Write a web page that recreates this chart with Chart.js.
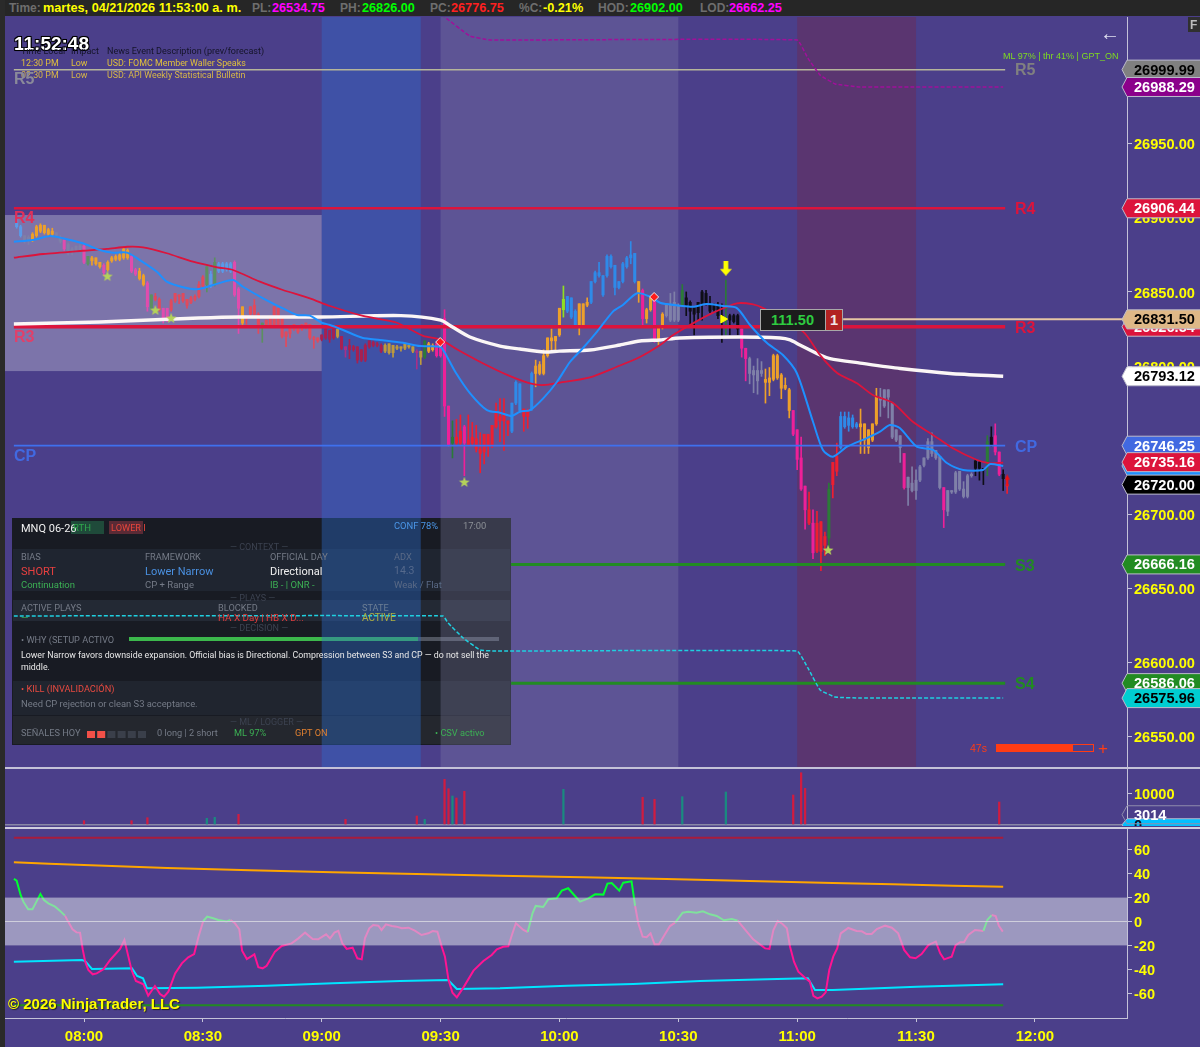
<!DOCTYPE html>
<html>
<head>
<meta charset="utf-8">
<title>MNQ 06-26</title>
<script src="https://cdn.jsdelivr.net/npm/chart.js@4"></script>
<style>
  html, body { margin: 0; padding: 0; background: #4b3f8a; overflow: hidden; }
  #page { position: relative; width: 1200px; height: 1047px; overflow: hidden; background: #4b3f8a; font-family: "Liberation Sans", Arial, sans-serif; }
  canvas { position: absolute; left: 0; display: block; }
  #priceChart { top: 17px; }
  #volumeChart { top: 769px; }
  #oscChart { top: 829px; }
  #topbar { position: absolute; left: 0; top: 0; width: 1200px; height: 16px; background: #262626; }
  #gutter { position: absolute; left: 0; top: 0; width: 5px; height: 1047px; background: #2a2a2a; }
  .rule { position: absolute; left: 5px; width: 1195px; }
  .t { position: absolute; white-space: nowrap; transform: translateY(-50%); line-height: 1; }
  .n { font-family: Roboto, sans-serif; }
  .box { position: absolute; box-sizing: border-box; }
</style>
</head>
<body>
<div id="page">
  <canvas id="priceChart" width="1200" height="751"></canvas>
  <canvas id="volumeChart" width="1200" height="57"></canvas>
  <canvas id="oscChart" width="1200" height="218"></canvas>
  <div class="rule" style="top:767px;height:2px;background:#c4c2d8"></div>
  <div class="rule" style="top:827px;height:2px;background:#d0cee0"></div>
  <div id="topbar"></div>
  <div id="gutter"></div>
  <div id="texts"></div>
</div>
<script>
// minutes since midnight for the first bar is 07:43, one bar per minute
const firstBarMinute = 463;
const barHighs = [
  26901,26895,26888,26888,26890,26895,26896,26895,26893,26893,
  26890,26888,26885,26883,26880,26881,26882,26882,26874,26874,
  26873,26870,26869,26871,26874,26875,26876,26880,26879,26875,
  26866,26866,26862,26857,26848,26849,26846,26839,26839,26845,
  26849,26848,26849,26845,26847,26848,26857,26861,26867,26864,
  26873,26870,26870,26870,26870,26871,26853,26840,26834,26840,
  26845,26836,26829,26831,26833,26840,26839,26833,26823,26827,
  26828,26827,26828,26829,26828,26820,26819,26821,26825,26824,
  26826,26825,26820,26813,26818,26814,26813,26811,26815,26817,
  26817,26816,26815,26815,26815,26814,26814,26813,26815,26815,
  26813,26811,26810,26817,26816,26815,26816,26815,26838,26773,
  26763,26764,26767,26760,26767,26762,26760,26755,26754,26754,
  26760,26775,26778,26778,26763,26775,26790,26788,26771,26771,
  26796,26804,26803,26811,26819,26825,26820,26839,26854,26847,
  26846,26838,26842,26842,26846,26857,26864,26870,26861,26875,
  26875,26868,26857,26870,26874,26884,26876,26857,26852,26839,
  26846,26846,26826,26836,26842,26849,26850,26842,26855,26850,
  26844,26840,26843,26851,26851,26847,26842,26843,26842,26858,
  26835,26835,26835,26825,26812,26806,26800,26805,26803,26798,
  26799,26808,26808,26795,26792,26785,26770,26757,26752,26719,
  26715,26703,26702,26695,26688,26721,26735,26748,26769,26769,
  26769,26767,26762,26771,26761,26757,26761,26785,26785,26784,
  26784,26775,26757,26753,26741,26725,26732,26730,26733,26738,
  26751,26755,26743,26739,26718,26716,26716,26729,26729,26722,
  26727,26728,26737,26736,26731,26753,26759,26761,26742,26730,26725
];
const bodyTops = [
  26899,26894,26888,26887,26889,26894,26895,26895,26892,26891,
  26890,26887,26885,26882,26879,26881,26881,26881,26874,26873,
  26873,26870,26868,26870,26873,26874,26875,26879,26878,26874,
  26865,26864,26861,26856,26848,26847,26845,26839,26839,26844,
  26849,26848,26849,26845,26846,26847,26855,26860,26867,26862,
  26870,26869,26869,26869,26869,26870,26852,26840,26834,26840,
  26841,26835,26829,26831,26833,26840,26839,26833,26823,26827,
  26828,26827,26828,26829,26828,26819,26819,26821,26825,26824,
  26825,26825,26820,26813,26814,26813,26813,26811,26814,26817,
  26816,26815,26814,26814,26815,26814,26813,26813,26815,26814,
  26813,26810,26810,26817,26815,26814,26815,26814,26832,26773,
  26752,26752,26756,26759,26750,26752,26751,26744,26754,26754,
  26760,26768,26766,26767,26763,26775,26789,26788,26771,26770,
  26795,26800,26801,26807,26819,26819,26820,26839,26845,26847,
  26846,26837,26842,26842,26843,26857,26863,26863,26861,26874,
  26874,26868,26857,26869,26873,26875,26876,26857,26851,26838,
  26846,26846,26826,26835,26841,26841,26843,26841,26851,26846,
  26843,26840,26843,26850,26849,26841,26841,26841,26834,26840,
  26834,26834,26834,26825,26812,26805,26797,26797,26797,26791,
  26792,26807,26807,26794,26787,26784,26770,26757,26738,26719,
  26703,26694,26694,26695,26685,26717,26735,26739,26766,26766,
  26765,26765,26761,26761,26761,26757,26761,26779,26779,26784,
  26784,26775,26757,26753,26741,26725,26721,26723,26732,26738,
  26749,26749,26743,26739,26718,26716,26716,26728,26729,26717,
  26726,26727,26736,26735,26731,26749,26752,26753,26742,26727,26720
];
const bodyBottoms = [
  26894,26888,26885,26885,26885,26888,26891,26890,26889,26889,
  26888,26884,26879,26878,26877,26878,26878,26870,26869,26871,
  26869,26867,26863,26865,26871,26872,26872,26873,26873,26864,
  26862,26859,26855,26840,26839,26845,26838,26832,26832,26838,
  26844,26847,26844,26841,26843,26845,26847,26854,26855,26854,
  26855,26864,26864,26865,26864,26848,26839,26829,26832,26835,
  26835,26828,26826,26828,26827,26828,26828,26820,26820,26822,
  26825,26823,26825,26826,26819,26818,26817,26818,26819,26818,
  26819,26820,26812,26811,26811,26811,26804,26804,26804,26813,
  26814,26814,26810,26810,26809,26809,26812,26812,26812,26813,
  26810,26809,26806,26806,26810,26811,26807,26807,26773,26747,
  26748,26748,26748,26748,26747,26748,26744,26741,26742,26746,
  26746,26759,26763,26763,26761,26756,26775,26770,26766,26766,
  26771,26795,26795,26795,26807,26817,26817,26821,26838,26837,
  26833,26827,26827,26827,26841,26843,26857,26861,26848,26861,
  26867,26853,26853,26857,26867,26873,26857,26849,26832,26832,
  26838,26817,26818,26826,26834,26831,26831,26831,26841,26841,
  26837,26835,26836,26842,26842,26837,26838,26834,26830,26839,
  26831,26830,26825,26812,26805,26795,26794,26790,26795,26789,
  26789,26791,26792,26785,26785,26770,26754,26737,26717,26703,
  26694,26674,26675,26675,26679,26684,26720,26729,26745,26759,
  26760,26759,26759,26759,26750,26745,26750,26761,26777,26773,
  26779,26752,26750,26745,26718,26718,26716,26716,26723,26733,
  26738,26741,26738,26718,26703,26702,26715,26715,26717,26712,
  26712,26726,26731,26731,26730,26734,26747,26742,26727,26724,26719
];
const barLows = [
  26893,26887,26883,26882,26884,26887,26890,26889,26888,26888,
  26887,26883,26878,26875,26875,26877,26877,26869,26868,26868,
  26868,26866,26861,26864,26870,26871,26871,26872,26872,26863,
  26861,26858,26854,26837,26838,26844,26837,26829,26830,26837,
  26843,26842,26843,26839,26842,26844,26846,26853,26850,26853,
  26854,26863,26863,26864,26863,26847,26822,26828,26828,26834,
  26834,26822,26816,26827,26826,26827,26827,26819,26813,26819,
  26824,26822,26824,26825,26818,26812,26816,26817,26818,26816,
  26818,26819,26811,26806,26805,26810,26802,26803,26803,26812,
  26813,26813,26809,26809,26808,26806,26811,26810,26811,26812,
  26809,26798,26801,26805,26809,26810,26806,26806,26766,26746,
  26738,26747,26746,26726,26746,26746,26742,26728,26734,26739,
  26745,26758,26749,26743,26753,26755,26774,26769,26756,26758,
  26770,26786,26794,26794,26806,26811,26811,26820,26833,26836,
  26832,26826,26821,26826,26840,26842,26856,26860,26847,26860,
  26866,26848,26852,26856,26866,26869,26856,26843,26827,26829,
  26837,26816,26814,26825,26833,26830,26830,26830,26840,26834,
  26826,26821,26831,26831,26841,26836,26837,26832,26816,26821,
  26821,26829,26821,26806,26790,26788,26782,26781,26793,26775,
  26780,26790,26791,26778,26784,26765,26753,26730,26716,26690,
  26693,26670,26674,26662,26672,26675,26711,26726,26744,26758,
  26756,26758,26758,26741,26741,26741,26749,26760,26766,26772,
  26765,26751,26749,26735,26717,26706,26715,26710,26722,26732,
  26737,26739,26737,26717,26691,26699,26714,26714,26716,26711,
  26711,26725,26726,26723,26720,26726,26746,26740,26726,26716,26714
];
// bar state per minute, see barPalette
const barStates = [
  "ccggoooooo","ggqggggqho","ooqooooooq","qooqhllqql","llllllllhc","hccccqqoll","llhlllllll","lllllllddd",
  "dedmdddddd","dddeeeeeee","emeGoopppp","Grrprrrrrr","rrrrrbbbrr","boooooooLb","bbooobbbbb","bbbbbbbopo",
  "opooggggGk","kkkkkkkkkG","kkkppggggo","oooooopppp","rprrrGrrbb","bbbooooogg","ggggpggggg","ggggpggggg",
  "ggkkkGkppk","r"
].join("");

// slow average (white)
const slowTimes = [462.3,484,509,519,540,560,570,573,577.4,585,590,596.3,600,607.7,615.3,620.3,625.4,630.4,645.6,655.7,658.2,660.7,665.8,668.3,675.9,686,698.6,712];
const slowValues = [26828.4,26829.7,26832.4,26833.1,26833.1,26834,26831,26826.3,26819.6,26813.5,26811.5,26809.5,26810.1,26810.8,26814.2,26816.9,26817.6,26818.9,26819.6,26818.9,26817.6,26814.2,26807.4,26805,26802,26798.3,26795,26793.1];
// fast average (blue)
const fastTimes = [462.3,467.1,471.4,474.7,479.7,484,487.3,490.9,494.1,498.4,500.9,505,508.5,512.6,517.6,520.1,525.2,530.2,533.8,537,540,542.1,545.4,550.2,554.7,560.5,564.8,569.9,571.1,573.7,577.4,581.7,585,588,590,592.6,595.9,599.4,602.7,605.9,609.5,613.5,616,619.6,622.9,625.4,627.1,630.4,633.7,637.2,641.3,644.8,648.1,652.4,656.4,659.9,664,666.5,669,672.6,677.6,680.9,683.4,685.9,690.2,694.3,697.8,701.9,706.9,708.7,712];
const fastValues = [26883.9,26885,26887.7,26886.2,26882.8,26878.3,26876.5,26876.5,26871.5,26863.6,26856.9,26853.1,26851.8,26854.7,26858,26853.5,26845.7,26838.9,26834.4,26834,26829.2,26827.7,26824.3,26819.1,26817.6,26815.7,26813.5,26813,26808.8,26796.2,26781.8,26770.3,26768.5,26766.3,26769.2,26770.3,26778.2,26789.4,26802.9,26812,26823.2,26836.7,26841.2,26849.1,26846.8,26842.7,26841.8,26840.7,26840,26841.8,26840.5,26839.1,26827.7,26815.5,26807.4,26795.3,26762.4,26743.4,26738.8,26745.6,26751.4,26755.7,26760.2,26758.2,26745.6,26743.4,26734.6,26729.9,26729.9,26733.9,26732.6];
// mid average (red)
const midTimes = [462.3,469.7,479.7,485.8,490.9,494.9,500.9,507.5,513.6,517.6,524.4,530.2,537,542.1,550.4,559,565.6,569.9,574.1,579.9,586.8,592.6,595.9,600.1,607.7,614.5,620.3,625.4,628.7,633.7,638.8,644.8,648.9,651.4,661.5,665.8,670.1,675.1,679.1,684.2,689.2,694.3,699.3,705.4,708.7,712];
const midValues = [26873.1,26875.6,26877.8,26879,26880.5,26880.1,26876.1,26870.4,26866.6,26864.8,26856.9,26851.3,26845.7,26840.5,26833.8,26829.2,26820.3,26818,26811.3,26802.9,26794,26788.3,26787.2,26788.8,26792.4,26799.5,26806.1,26814.2,26820.9,26828.8,26836,26842.3,26841.6,26839.1,26823.2,26807.4,26795.3,26788.4,26780.5,26775.1,26762.4,26753.5,26744.5,26736.6,26734.4,26734.8];
// dashed envelope, upper and lower
const upperBandTimes = [570.3,577.4,582.5,660,662.7,665.8,669.6,675.9,712];
const upperBandValues = [27037,27022.7,27020,27020,27007.8,26996.3,26990.3,26988.3,26988.3];
const lowerBandTimes = [462.3,570.6,571.9,575.7,580,584,660,662.7,665.8,669.6,675.9,712];
const lowerBandValues = [26631.4,26631.4,26626.6,26616.5,26608.4,26607.7,26607.7,26596.3,26581.4,26576.7,26576,26576];

// pivot levels
const levelNames = ["R5","R4","R3","CP","S3","S4"];
const levelPrices = [26999.99,26906.44,26826.54,26746.25,26666.16,26586.06];
const levelStarts = [462.3,462.3,462.3,462.3,587.8,587.8];
const levelEnd = 712.5;
const entryPrice = 26831.5;
const entryStart = 671.6;
const entryEnd = 743.25;

// session shading
const bandStarts = [540,570,660];
const bandEnds = [565,630,690];
const openingBoxEnd = 540;
const openingBoxHigh = 26901.9;
const openingBoxLow = 26796.6;

// signal markers
const starTimes = [485.9,498,502,576,667.8];
const starPrices = [26860.7,26837.8,26832.4,26721.8,26675.9];
const diamondTimes = [569.9,623.9];
const diamondPrices = [26816.2,26846.6];
const downArrowTimes = [642];
const downArrowPrices = [26866];
const entryMarkTimes = [641.3];
const entryMarkPrices = [26831.7];
const upArrowTimes = [713];
const upArrowPrices = [26723];

// volume spikes
const volumeTimes = [480,492,496,511,513,519,546,564,566,571,572,573,574,576,601,621,624,631,642,659,661,662,711];
const volumeValues = [1075,1075,2050,1850,2180,3160,1530,2600,1530,14560,11500,9120,8470,10650,11300,8700,8050,8900,10420,9450,16700,11600,7160];
const volumeSides = ["s","s","s","b","b","s","s","s","b","s","s","b","s","s","b","s","s","b","b","s","s","s","s"];

// oscillator
const oscTimes = [462.3,463,464,464.7,465.9,467,468,469,469.9,471,472.7,473.9,475.2,476,477.1,478.1,479,479.7,480.3,481.1,482.2,483.2,484.9,486.6,489.1,490.2,491.2,492,493.1,495,496.2,497.9,499.2,500.2,501.3,503,504.7,506.3,507.8,508.9,510.1,511.1,512.6,513.9,516,517,518.1,519.2,519.9,521.1,523,524,525.1,526.1,528.2,529.9,532.4,534.1,535.8,537.7,539.1,541.1,542.1,543.2,544.2,545.2,546.3,547.8,549,550.1,550.9,552,553,554.3,555.1,556.2,557.7,558.9,560.2,561.9,563.5,565.2,566.9,568,569.2,570.3,571.1,572,573,574.1,575.9,578.3,580.8,582.9,584.2,585.8,587.1,588,589,590.9,592,593.2,594,595.9,597.2,599.3,600.6,602.2,603.7,605.2,607.3,609,611.1,612.1,613.2,615.1,616.1,618.2,619.1,619.9,621,622,623,624,625.1,627.9,629.2,631.1,632.5,634.6,636.2,638,639.7,641.5,643.5,645,646.8,648.9,651.9,653,654,655.1,656.3,657.4,658.2,659.2,660.3,662.4,663.2,664.1,665.1,666.2,667.2,668.1,669.1,670.1,671,672.9,675,676.3,677.5,678.8,680.1,682.2,683.9,685.5,687,688.5,689.9,691.4,693.1,695,696.1,697.1,699,700,701.1,702.1,703.2,704.9,707,708,709.1,710.1,710.9,711.9];
const oscValues = [35.6,34.2,22.2,16.6,10.2,10.2,16.6,23,18,15.2,12.4,9.1,4.9,-0.1,-6.5,-9.1,-9.3,-23.8,-33.6,-40.6,-44.2,-43.4,-40,-32.2,-23,-15.5,-29.4,-40.6,-49.8,-52.6,-62.1,-54,-60.7,-62.9,-58.7,-43.4,-35,-30,-27.2,-12.7,0.4,4.1,2.7,1.3,0.1,1.3,-1.5,-6.5,-24.4,-31.4,-27.5,-38.3,-39.2,-37,-25.2,-20.5,-18.3,-14.1,-9.3,-14.6,-14.9,-10.7,-14.1,-9.3,-7.9,-18.3,-23,-21.9,-30.8,-31.7,-14.1,-5.7,-2.9,-3.5,-7.1,-2.4,-3.8,-4.3,-5.7,-5.2,-7.7,-11.3,-9.9,-8,-8.5,-21.1,-29.4,-49,-59.6,-63.5,-54.5,-41.1,-33.1,-28,-23.3,-21.1,-20.8,-11.3,-1.5,-7.1,-8.8,6.8,13,12.1,18.6,19.4,25.8,27.8,22.2,16.6,19.4,22.7,22.5,31.7,32.2,25.8,32.5,33.6,13,-1.5,-12.7,-13.2,-9.9,-19.1,-19.1,-3.8,-1,7.4,8.2,7.4,8.5,6,4.6,1,2.1,0.7,-6.5,-14.9,-22.5,-23,-7.1,0.4,-2.1,-5.7,-21.1,-33.6,-42,-48.4,-50.3,-62.3,-64.3,-62.9,-59.3,-40.6,-29.4,-22.5,-9.9,-5.4,-7.9,-8.2,-10.5,-10.5,-6.3,-3.5,-5.2,-9.9,-23.8,-30,-30.8,-27.2,-19.7,-16.9,-26.6,-31.7,-29.4,-19.7,-17.4,-17.4,-11.3,-7.1,-7.9,1.3,5.4,4.6,-3.5,-8.5];
// where the oscillator reads green, everything else is pink
const oscGreenStarts = [462,509,592,629.2,707];
const oscGreenEnds = [475.2,517,619.1,645,709.1];
const oscUpperTimes = [462.3,480,501,542.8,585,627,669,699.3,712];
const oscUpperValues = [49.5,47.3,44.8,41.2,38.3,35.6,32.2,30,29.1];
const oscLowerTimes = [462.3,479.5,480.3,482,492.1,493.4,494.9,495.9,508.5,526.2,542.8,559.8,571.9,574.1,585,601.9,618.6,635.5,652.4,662.7,664.5,669,690.2,712];
const oscLowerValues = [-33.6,-32.2,-33.1,-39.7,-39.2,-45.6,-47.5,-55.9,-55.4,-53.7,-51.7,-49.8,-49,-56.5,-55.9,-53.7,-52.3,-49.8,-48.4,-47.5,-57.3,-57.3,-54.6,-52.6];
const oscOverbought = 70;
const oscOversold = -70;
const oscZoneHigh = 20;
const oscZoneLow = -20;

// axis ticks
const timeTicks = [480,510,540,570,600,630,660,690,720];
const timeTickLabels = ["08:00","08:30","09:00","09:30","10:00","10:30","11:00","11:30","12:00"];
const priceTicks = [26950,26900,26850,26800,26700,26650,26600,26550];
const volumeTicks = [10000];
const oscTicks = [60,40,20,0,-20,-40,-60];

// price tags on the right axis, painted in this order
const tagPrices = [26999.99,26988.29,26906.44,26826.54,26831.5,26793.12,26746.25,26732.6,26735.16,26720,26666.16,26586.06,26575.96];
const tagFills = ["#808080","#8b008b","#dc143c","#dc143c","#deb887","#ffffff","#4169e1","#1e90ff","#dc143c","#000000","#228b22","#228b22","#00ced1"];
const tagInks = ["#000","#fff","#fff","#fff","#000","#000","#fff","#fff","#fff","#fff","#fff","#fff","#000"];

const barPalette = {
  b: "#2f8ae8", c: "#5a9ae8", o: "#eda02a", e: "#c09a3c", p: "#ee2098", q: "#e04cae", m: "#a83088",
  r: "#ee1f30", d: "#a82050", l: "#e24a5c", g: "#7f80a8", G: "#2c7a38", h: "#5c9060", L: "#90e020", k: "#0e0e16"
};
const FONT = "Liberation Sans";
const startTime = 460.06;
const endTime = 743.25;

function xy(times, values) {
  return times.map((t, i) => ({ x: t, y: values[i] }));
}

function lineSet(label, times, values, color, width, order, extra) {
  return Object.assign({
    type: "line", label: label, data: xy(times, values), borderColor: color, borderWidth: width,
    pointRadius: 0, tension: 0.25, order: order
  }, extra || {});
}

function markerSet(label, times, values, style, size, color, order, rotation) {
  return {
    type: "line", label: label, data: xy(times, values), showLine: false, pointStyle: style, pointRadius: size,
    pointBackgroundColor: color, pointBorderColor: "#f4e8e8", pointBorderWidth: 1, pointRotation: rotation || 0, order: order
  };
}

// filled star, chart.js only has the line version
function starSprite() {
  const c = document.createElement("canvas");
  c.width = 12; c.height = 12;
  const g = c.getContext("2d");
  g.beginPath();
  for (let i = 0; i < 10; i++) {
    const r = i % 2 ? 2.4 : 5.6;
    const a = -Math.PI / 2 + i * Math.PI / 5;
    g.lineTo(6 + r * Math.cos(a), 6.4 + r * Math.sin(a));
  }
  g.closePath();
  g.fillStyle = "#b4d25a";
  g.fill();
  return c;
}

function arrowSprite(color, w, h, down) {
  const c = document.createElement("canvas");
  c.width = w; c.height = h;
  const g = c.getContext("2d");
  g.fillStyle = color;
  if (!down) { g.translate(0, h); g.scale(1, -1); }
  g.beginPath();
  g.moveTo(w * 0.3, 0); g.lineTo(w * 0.7, 0); g.lineTo(w * 0.7, h * 0.55); g.lineTo(w, h * 0.55);
  g.lineTo(w / 2, h); g.lineTo(0, h * 0.55); g.lineTo(w * 0.3, h * 0.55);
  g.closePath();
  g.fill();
  return c;
}

function fixedAxis(width) {
  return function (scale) {
    scale.width = width;
    scale.paddingTop = 0; scale.paddingBottom = 0; scale.paddingLeft = 0; scale.paddingRight = 0;
  };
}

function yAxis(min, max, ticks, format) {
  return {
    position: "right", min: min, max: max,
    afterBuildTicks: s => { s.ticks = ticks.map(v => ({ value: v })); },
    afterFit: fixedAxis(73),
    border: { color: "#c4c2d8", width: 1 },
    grid: { drawOnChartArea: false, tickLength: 5, tickColor: "#c4c2d8" },
    ticks: { color: "#ffff00", padding: 2, autoSkip: false, font: { family: FONT, weight: "bold", size: 14.6 }, callback: format }
  };
}

function hiddenX() {
  return { type: "linear", min: startTime, max: endTime, display: false, offset: false, grid: { offset: false } };
}

// the reference labels sit a touch under their tick marks
const tickNudge = {
  id: "tickNudge",
  beforeDraw(chart) {
    chart.scales.y.getLabelItems().forEach(item => { item.options.translation[1] += 1.6; });
  }
};

const baseOptions = {
  responsive: false, animation: false, events: [],
  layout: { autoPadding: false, padding: { left: 5, right: 0, top: 0, bottom: 0 } },
  plugins: { legend: { display: false }, tooltip: { enabled: false } },
  datasets: { bar: { grouped: false, categoryPercentage: 1, barPercentage: 1 } }
};

// chart background for the price pane: box, dark info panel, then the session shading over them
const priceBackdrop = {
  id: "priceBackdrop",
  beforeDatasetsDraw(chart) {
    const g = chart.ctx, a = chart.chartArea, x = chart.scales.x, y = chart.scales.y;
    const off = 17; // canvas top on the page
    g.save();
    g.fillStyle = "rgba(173,169,202,0.5)";
    g.fillRect(a.left, y.getPixelForValue(openingBoxHigh), x.getPixelForValue(openingBoxEnd) - a.left, y.getPixelForValue(openingBoxLow) - y.getPixelForValue(openingBoxHigh));

    g.fillStyle = "#181b23";
    g.fillRect(12, 518 - off, 499, 227);
    g.fillStyle = "#1f2530";
    g.fillRect(13, 549 - off, 497, 42);
    g.fillStyle = "#232934";
    g.fillRect(13, 600 - off, 497, 21);
    g.fillStyle = "#20252f";
    g.fillRect(13, 681 - off, 497, 34);
    g.fillStyle = "#24272e";
    g.fillRect(13, 716 - off, 497, 28);
    g.fillStyle = "#505560";
    g.fillRect(129, 637 - off, 370, 4);
    g.fillStyle = "#3cb84c";
    g.fillRect(129, 637 - off, 289, 4);
    g.fillStyle = "#1f4a3a";
    g.fillRect(71, 521 - off, 33, 13);
    g.fillStyle = "#5a2a35";
    g.fillRect(109, 521 - off, 34, 13);
    const cells = ["#f25048","#f25048","#3a3f4a","#3a3f4a","#3a3f4a","#3a3f4a"];
    cells.forEach((col, i) => { g.fillStyle = col; g.fillRect(87 + i * 10.2, 731 - off, 8, 7); });

    const shades = ["rgba(45,110,208,0.4)", "rgba(139,141,181,0.28)", "rgba(150,13,10,0.2)"];
    bandStarts.forEach((s, i) => {
      const l = x.getPixelForValue(s);
      g.fillStyle = shades[i];
      g.fillRect(l, a.top, x.getPixelForValue(bandEnds[i]) - l, a.bottom - a.top);
    });
    g.restore();
  }
};

function drawTag(g, cy, text, fill, ink, h) {
  g.beginPath();
  g.moveTo(1122, cy);
  g.lineTo(1127, cy - h / 2);
  g.lineTo(1201, cy - h / 2);
  g.lineTo(1201, cy + h / 2);
  g.lineTo(1127, cy + h / 2);
  g.closePath();
  g.fillStyle = fill;
  g.fill();
  g.strokeStyle = "#bdbccc";
  g.lineWidth = 1;
  g.stroke();
  g.fillStyle = ink;
  g.font = "bold 14.6px '" + FONT + "'";
  g.textAlign = "left";
  g.textBaseline = "middle";
  g.fillText(text, 1134, cy + 1);
}

const priceTags = {
  id: "priceTags",
  afterDraw(chart) {
    const y = chart.scales.y;
    chart.ctx.save();
    tagPrices.forEach((p, i) => {
      drawTag(chart.ctx, y.getPixelForValue(p), p.toFixed(2), tagFills[i], tagInks[i], 19);
    });
    chart.ctx.restore();
  }
};

const volumeExtras = {
  id: "volumeExtras",
  beforeDatasetsDraw(chart) {
    const g = chart.ctx, a = chart.chartArea, y = chart.scales.y;
    g.save();
    g.fillStyle = "#8a88a6";
    g.fillRect(a.left, y.getPixelForValue(0), a.right - a.left, 1.5);
    g.restore();
  },
  afterDraw(chart) {
    const g = chart.ctx, y = chart.scales.y;
    g.save();
    drawTag(g, y.getPixelForValue(-250), "0", "#00bfff", "#101020", 12);
    g.beginPath();
    g.moveTo(1122, y.getPixelForValue(3014));
    g.lineTo(1127, y.getPixelForValue(3014) - 9);
    g.lineTo(1201, y.getPixelForValue(3014) - 9);
    g.moveTo(1122, y.getPixelForValue(3014));
    g.lineTo(1127, y.getPixelForValue(3014) + 9);
    g.lineTo(1201, y.getPixelForValue(3014) + 9);
    g.strokeStyle = "#8f8dac";
    g.stroke();
    g.fillStyle = "#fff";
    g.font = "bold 14.6px '" + FONT + "'";
    g.textBaseline = "middle";
    g.fillText("3014", 1134, y.getPixelForValue(3014) + 1);
    g.restore();
  }
};

// zone goes over the line so the line fades inside it, like the original
const oscZone = {
  id: "oscZone",
  afterDatasetsDraw(chart) {
    const g = chart.ctx, a = chart.chartArea, y = chart.scales.y;
    const top = y.getPixelForValue(oscZoneHigh), bottom = y.getPixelForValue(oscZoneLow);
    g.save();
    g.fillStyle = "rgba(206,206,224,0.62)";
    g.fillRect(a.left, top, a.right - a.left, bottom - top);
    g.fillStyle = "#cfcfdc";
    g.fillRect(a.left, y.getPixelForValue(0) - 0.5, a.right - a.left, 1);
    g.restore();
  }
};

function isGreen(t) {
  return oscGreenStarts.some((s, i) => t >= s && t < oscGreenEnds[i]);
}

const candleTimes = barHighs.map((v, i) => firstBarMinute + i);
const candleColors = barStates.split("").map(s => barPalette[s]);

const levelColors = ["#b6b69a","#dc143c","#dc143c","#3f70ee","#228b22","#228b22"];
const levelWidths = [1.5,2.4,3.4,1.8,3,3];
const levelSets = levelNames.map((name, i) =>
  lineSet(name, [levelStarts[i], levelEnd], [levelPrices[i], levelPrices[i]], levelColors[i], levelWidths[i], 45, { tension: 0 })
);

new Chart(document.getElementById("priceChart"), {
  type: "bar",
  data: {
    datasets: [
      { label: "wicks", data: candleTimes.map((t, i) => ({ x: t, y: [barLows[i], barHighs[i]] })), backgroundColor: candleColors, barThickness: 1, order: 60 },
      { label: "bodies", data: candleTimes.map((t, i) => ({ x: t, y: [bodyBottoms[i], bodyTops[i]] })), backgroundColor: candleColors, barThickness: 2.4, order: 59 },
      ...levelSets,
      lineSet("entry", [entryStart, entryEnd], [entryPrice, entryPrice], "#e6c6a4", 2, 44, { tension: 0 }),
      lineSet("slow", slowTimes, slowValues, "#fbf6f6", 3.4, 30),
      lineSet("mid", midTimes, midValues, "#dc143c", 1.8, 29),
      lineSet("fast", fastTimes, fastValues, "#1e90ff", 2, 28),
      lineSet("upper band", upperBandTimes, upperBandValues, "#a0109a", 1.5, 27, { borderDash: [4, 2], tension: 0.1 }),
      lineSet("lower band", lowerBandTimes, lowerBandValues, "#1fd0e0", 1.5, 26, { borderDash: [4, 2], tension: 0.1 }),
      markerSet("stars", starTimes, starPrices, starSprite(), 6, "#b4d25a", 10),
      markerSet("diamonds", diamondTimes, diamondPrices, "rectRot", 4.5, "#ff1a1a", 9),
      markerSet("signal", downArrowTimes, downArrowPrices, arrowSprite("#ffff00", 12, 15, true), 7, "#ffff00", 8),
      Object.assign(markerSet("entry mark", entryMarkTimes, entryMarkPrices, "triangle", 4.5, "#ffff00", 7, 90), { pointBorderColor: "#ffff00" }),
      markerSet("last", upArrowTimes, upArrowPrices, arrowSprite("#ee1010", 5, 12, false), 5, "#ee1010", 6)
    ]
  },
  options: Object.assign({}, baseOptions, {
    scales: {
      x: hiddenX(),
      y: yAxis(26528.8, 27035.5, priceTicks, v => v.toFixed(2))
    }
  }),
  plugins: [tickNudge, priceBackdrop, priceTags]
});

new Chart(document.getElementById("volumeChart"), {
  type: "bar",
  data: {
    datasets: [{
      label: "volume", data: xy(volumeTimes, volumeValues),
      backgroundColor: volumeSides.map(s => s === "b" ? "#1a8a80" : "#d01c40"), barThickness: 1.6
    }]
  },
  options: Object.assign({}, baseOptions, {
    scales: {
      x: hiddenX(),
      y: yAxis(-650, 17915, volumeTicks, v => String(v))
    }
  }),
  plugins: [tickNudge, volumeExtras]
});

new Chart(document.getElementById("oscChart"), {
  type: "line",
  data: {
    datasets: [
      lineSet("top", [462.3, 712], [oscOverbought, oscOverbought], "#a81c3c", 2, 20, { tension: 0 }),
      lineSet("bottom", [462.3, 712], [oscOversold, oscOversold], "#228b22", 2, 20, { tension: 0 }),
      lineSet("orange", oscUpperTimes, oscUpperValues, "#ffa500", 2, 15),
      lineSet("cyan", oscLowerTimes, oscLowerValues, "#00e5ff", 2, 14, { tension: 0 }),
      lineSet("osc", oscTimes, oscValues, "#ff1493", 2, 13, {
        tension: 0,
        segment: { borderColor: c => isGreen(c.p0.parsed.x) ? "#00ff30" : "#ff1493" }
      })
    ]
  },
  options: Object.assign({}, baseOptions, {
    scales: {
      x: {
        type: "linear", min: startTime, max: endTime, offset: false,
        afterBuildTicks: s => { s.ticks = timeTicks.map(v => ({ value: v })); },
        afterFit: s => { s.height = 29; s.paddingLeft = 0; s.paddingRight = 0; s.paddingTop = 0; s.paddingBottom = 0; },
        border: { color: "#c4c2d8", width: 1 },
        grid: { drawOnChartArea: false, tickLength: 4, tickColor: "#c4c2d8" },
        ticks: {
          color: "#ffff00", padding: 6, autoSkip: false, maxRotation: 0,
          font: { family: FONT, weight: "bold", size: 15 },
          callback: (v, i) => timeTickLabels[i]
        }
      },
      y: yAxis(-80.75, 77.4, oscTicks, v => String(v))
    }
  }),
  plugins: [tickNudge, oscZone]
});

// everything that is page text and not axis text
const root = document.getElementById("texts");
function addText(x, y, text, color, size, opts) {
  opts = opts || {};
  const el = document.createElement("div");
  el.className = "t" + (opts.noto ? " n" : "");
  el.style.left = x + "px";
  el.style.top = y + "px";
  el.style.color = color;
  el.style.fontSize = size + "px";
  if (opts.bold) el.style.fontWeight = "bold";
  if (opts.width) { el.style.width = opts.width + "px"; el.style.whiteSpace = "normal"; el.style.lineHeight = "11.5px"; el.style.transform = "none"; }
  if (opts.shadow) el.style.textShadow = opts.shadow;
  el.textContent = text;
  root.appendChild(el);
  return el;
}

// top status bar
[[9,"Time:","#6e6e6e"],[252,"PL:","#6e6e6e"],[340,"PH:","#6e6e6e"],[430,"PC:","#6e6e6e"],[519,"%C:","#6e6e6e"],[598,"HOD:","#6e6e6e"],[700,"LOD:","#6e6e6e"]
].forEach(r => addText(r[0], 8, r[1], r[2], 12, { bold: true }));
[[43,"martes, 04/21/2026 11:53:00 a. m.","#ffff00"],[272,"26534.75","#ff00ff"],[362,"26826.00","#00ff00"],[451,"26776.75","#ff2020"],
 [543,"-0.21%","#ffff00"],[630,"26902.00","#00ff00"],[729,"26662.25","#ff00ff"]
].forEach(r => addText(r[0], 8, r[1], r[2], 12.7, { bold: true }));

const outline = "-1px -1px 0 #000, 1px -1px 0 #000, -1px 1px 0 #000, 1px 1px 0 #000, 0 0 2px #000";
addText(14, 43, "11:52:48", "#ffffff", 19, { bold: true, shadow: outline });
[[21,"Time Local"],[71,"Impact"],[107,"News Event Description (prev/forecast)"]].forEach(r => addText(r[0], 51, r[1], "#141428", 9, { noto: true }));
[[21,"12:30 PM"],[71,"Low"],[107,"USD: FOMC Member Waller Speaks"]].forEach(r => addText(r[0], 63, r[1], "#e0c03c", 8.9, { noto: true }));
[[21,"02:30 PM"],[71,"Low"],[107,"USD: API Weekly Statistical Bulletin"]].forEach(r => addText(r[0], 75, r[1], "#d8b848", 8.9, { noto: true }));

// level names, right side and the faded copies on the left
const levelInks = ["#808080","#dc143c","#dc143c","#4169e1","#228b22","#228b22"];
const levelLabelY = [70,209,328,447,566,684];
levelNames.forEach((name, i) => addText(1015, levelLabelY[i], name, levelInks[i], 16, { bold: true }));
addText(14, 79, "R5", "#8a8a9a", 16, { bold: true });
addText(14, 218, "R4", "#e0305a", 16, { bold: true });
addText(14, 337, "R3", "#e0406a", 16, { bold: true });
addText(14, 456, "CP", "#4169e1", 16, { bold: true });

addText(1003, 56, "ML 97% | thr 41% | GPT_ON", "#7fdc20", 9);
addText(1100, 33, "←", "#e0e0f0", 20);
const fBox = document.createElement("div");
fBox.className = "box";
fBox.style.cssText = "left:1188px;top:17px;width:12px;height:15px;background:#303030";
root.appendChild(fBox);
addText(1190, 25, "F", "#bdbdbd", 12, { bold: true });

// position box with pnl
const pnlBox = document.createElement("div");
pnlBox.className = "box";
pnlBox.style.cssText = "left:760px;top:309px;width:66px;height:22px;background:#1c1c1c;border:1px solid #a8a8a8";
root.appendChild(pnlBox);
const qtyBox = document.createElement("div");
qtyBox.className = "box";
qtyBox.style.cssText = "left:825px;top:309px;width:18px;height:22px;background:#b22222;border:1px solid #a8a8a8";
root.appendChild(qtyBox);
addText(771, 320, "111.50", "#2ecc40", 14.6, { bold: true });
addText(830, 320, "1", "#f0e8e8", 14.6, { bold: true });

// timer bar
addText(970, 748, "47s", "#ff3c14", 10.5);
const timerBar = document.createElement("div");
timerBar.className = "box";
timerBar.style.cssText = "left:996px;top:744px;width:98px;height:8px;border:1px solid #ff3c14";
root.appendChild(timerBar);
const timerFill = document.createElement("div");
timerFill.className = "box";
timerFill.style.cssText = "left:996px;top:744px;width:77px;height:8px;background:#ff3c14";
root.appendChild(timerFill);
addText(1098, 748, "+", "#ff3c14", 17);

addText(8, 1003, "© 2026 NinjaTrader, LLC", "#ffff00", 15, { bold: true, shadow: "1px 1px 1px #222" });

// info panel text, colours already account for the shading sitting on it
const dim = "#757b87";
const sec = "#3c4250";
addText(21, 528, "MNQ 06-26", "#f0f0f0", 11, { noto: true });
addText(73, 528, "RTH", "#2fa84c", 9.5, { noto: true });
addText(111, 528, "LOWER I", "#e8463c", 9.2, { noto: true });
addText(394, 526, "CONF 78%", "#4a96e8", 9.4, { noto: true });
addText(463, 526, "17:00", "#8c9096", 9.4, { noto: true });
addText(230, 547, "— CONTEXT —", sec, 9, { noto: true });
addText(21, 557, "BIAS", dim, 9.2, { noto: true });
addText(145, 557, "FRAMEWORK", dim, 9.2, { noto: true });
addText(270, 557, "OFFICIAL DAY", dim, 9.2, { noto: true });
addText(394, 557, "ADX", "#5a6a86", 9.2, { noto: true });
addText(21, 571, "SHORT", "#e84040", 11, { noto: true });
addText(145, 571, "Lower Narrow", "#4a90e0", 11, { noto: true });
addText(270, 571, "Directional", "#f0f0f0", 11, { noto: true });
addText(394, 571, "14.3", "#55698c", 10.5, { noto: true });
addText(21, 585, "Continuation", "#3cb054", 9.5, { noto: true });
addText(145, 585, "CP + Range", dim, 9.5, { noto: true });
addText(270, 585, "IB - | ONR -", "#3cb054", 9.5, { noto: true });
addText(394, 585, "Weak / Flat", "#5a6a86", 9.5, { noto: true });
addText(230, 598, "— PLAYS —", sec, 9, { noto: true });
addText(21, 608, "ACTIVE PLAYS", dim, 9.2, { noto: true });
addText(218, 608, "BLOCKED", dim, 9.2, { noto: true });
addText(362, 608, "STATE", "#6d7f95", 9.2, { noto: true });
addText(21, 618, "—", "#3cb054", 9.5, { noto: true });
addText(218, 618, "HA X Day | HB X D...", "#e03c3c", 9.8, { noto: true });
addText(362, 618, "ACTIVE", "#b0b040", 10, { noto: true });
addText(230, 628, "— DECISION —", sec, 9, { noto: true });
addText(21, 640, "• WHY (SETUP ACTIVO", dim, 9.2, { noto: true });
addText(21, 650, "Lower Narrow favors downside expansion. Official bias is Directional. Compression between S3 and CP — do not sell the middle.", "#e8e8e8", 8.8, { noto: true, width: 480 });
addText(21, 689, "• KILL (INVALIDACIÓN)", "#e84a40", 9.2, { noto: true });
addText(21, 704, "Need CP rejection or clean S3 acceptance.", dim, 9.4, { noto: true });
addText(230, 722, "— ML / LOGGER —", sec, 9, { noto: true });
addText(21, 733, "SEÑALES HOY", dim, 9.2, { noto: true });
addText(157, 733, "0 long | 2 short", dim, 9.2, { noto: true });
addText(234, 733, "ML 97%", "#3cb054", 9.2, { noto: true });
addText(295, 733, "GPT ON", "#e08030", 9.2, { noto: true });
addText(435, 733, "• CSV activo", "#3cb054", 9.2, { noto: true });
</script>
</body>
</html>
